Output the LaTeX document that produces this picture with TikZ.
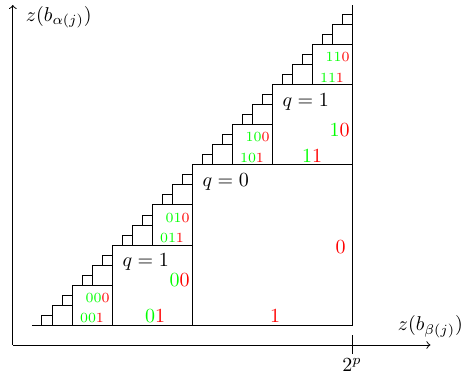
\documentclass[tikz,border=0pt]{standalone}
\usepackage{amsmath}
\usepackage{xcolor}
\usepackage{tikz}
\usetikzlibrary{arrows, positioning, calc}
\tikzstyle{qlab}   = [anchor=north west, inner sep=1pt, xshift=4pt, yshift=-3pt]
\tikzstyle{bigbit} = [inner sep=1pt]
\tikzstyle{smlbit} = [inner sep=1pt, font=\scriptsize]
\tikzstyle{axis}   = [->]
\newcommand{\bits}[2]{\textcolor{green}{#1}\textcolor{red}{#2}}

\begin{document}
\begin{tikzpicture}[x=80pt, y=80pt, line width=0.5pt]
  \useasboundingbox (-0.2,-0.3125) rectangle (2.70625,2.03125);

  % Axes
  \coordinate (orig) at (-0.12,-0.125);
  \coordinate (ytip) at (-0.12,2);
  \coordinate (xtip) at (2.49,-0.125);
  \coordinate (tick) at (2,-0.125);
  \draw[axis] (orig) -- (ytip);
  \draw[axis] (orig) -- (xtip);
  \node (ylab) at (ytip) [anchor=north west, xshift=3pt, yshift=3pt] {$z(b_{\alpha(j)})$};
  \node (xlab) at (xtip) [above] {$z(b_{\beta(j)})$};
  \draw ([yshift=-4.5pt]tick) -- ([yshift=5pt]tick);
  \node (pow) at ([yshift=-4.5pt]tick) [below, inner sep=2pt] {$2^p$};

  % Staircase of squares
  \draw (0,0) -- (2,0) -- (2,2);
  \foreach \k in {0,...,4} {
    \pgfmathsetmacro{\s}{2^(-\k)}
    \pgfmathtruncatemacro{\n}{2^\k-1}
    \foreach \i in {0,...,\n}
      \draw ({(2*\i+1)*\s},{2*\i*\s}) rectangle +(\s,\s);
  }

  % Big square
  \node (q0) [qlab] at (1,1) {$q=0$};
  \node (a0) [bigbit, anchor=east, xshift=-2pt] at (2,0.49) {\bits{}{0}};
  \node (a1) [bigbit, anchor=south] at (1.52,0) {\bits{}{1}};

  % Middle squares
  \node (q1) [qlab] at (0.5,0.5) {$q=1$};
  \node (b00) [bigbit, anchor=east] at (1,0.28) {\bits{0}{0}};
  \node (b01) [bigbit, anchor=south] at (0.77,0) {\bits{0}{1}};
  \node (q2) [qlab] at (1.5,1.5) {$q=1$};
  \node (b10) [bigbit, anchor=east] at (2,1.22) {\bits{1}{0}};
  \node (b11) [bigbit, anchor=south] at (1.75,1) {\bits{1}{1}};

  % Small squares
  \node (c000) [smlbit, anchor=east]  at (0.5,0.17)   {\bits{00}{0}};
  \node (c001) [smlbit, anchor=south] at (0.375,0)    {\bits{00}{1}};
  \node (c010) [smlbit, anchor=east]  at (1,0.67)     {\bits{01}{0}};
  \node (c011) [smlbit, anchor=south] at (0.875,0.5)  {\bits{01}{1}};
  \node (c100) [smlbit, anchor=east]  at (1.5,1.175)  {\bits{10}{0}};
  \node (c101) [smlbit, anchor=south] at (1.375,1)    {\bits{10}{1}};
  \node (c110) [smlbit, anchor=east]  at (2,1.675)    {\bits{11}{0}};
  \node (c111) [smlbit, anchor=south] at (1.875,1.5)  {\bits{11}{1}};

\end{tikzpicture}
\end{document}
